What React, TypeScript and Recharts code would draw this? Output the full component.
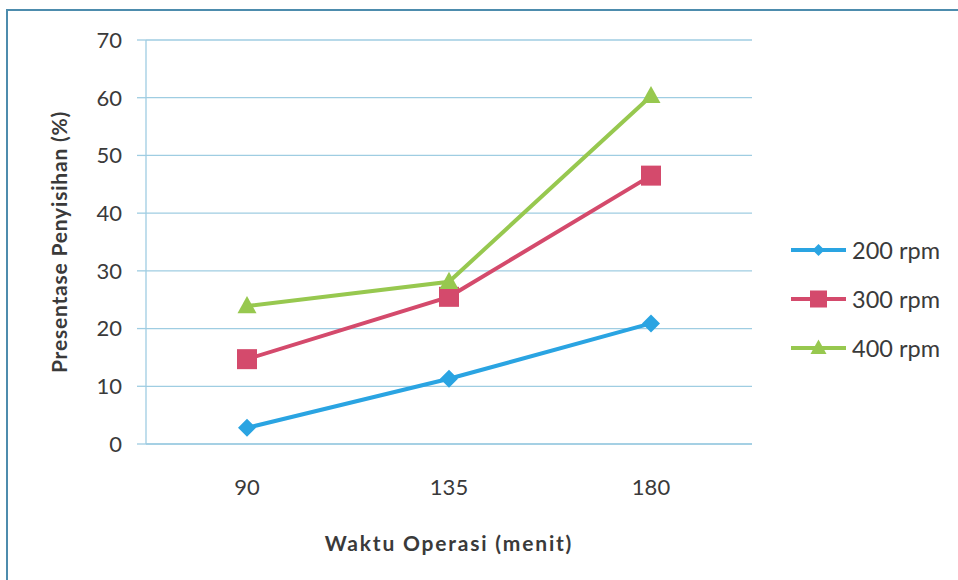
import React from 'react';
import { LineChart, Line, XAxis, YAxis, CartesianGrid, Legend } from 'recharts';

// Operating time (minutes) on the category axis
const waktu = ['90', '135', '180'];
// Removal percentage per stirring speed
const rpm200 = [2.8, 11.3, 20.9];
const rpm300 = [14.7, 25.5, 46.5];
const rpm400 = [23.9, 28.1, 60.3];
const yTicks = [0, 10, 20, 30, 40, 50, 60, 70];

const seriesNames = ['200 rpm', '300 rpm', '400 rpm'];
const colors = ['#2aa4e2', '#d44a6c', '#97c84f'];

const data = waktu.map((w, i) => ({
  waktu: w,
  r200: rpm200[i],
  r300: rpm300[i],
  r400: rpm400[i],
}));

const FONT = 'Lato, "Open Sans", sans-serif';
const TEXT = '#3a3a3a';
const GRID = '#9fcde2';

type MarkerKind = 'diamond' | 'square' | 'triangle';

function markerShape(kind: MarkerKind, cx: number, cy: number, s: number, color: string, key?: string) {
  if (kind === 'diamond') {
    return (
      <polygon
        key={key}
        points={`${cx},${cy - s} ${cx + s},${cy} ${cx},${cy + s} ${cx - s},${cy}`}
        fill={color}
      />
    );
  }
  if (kind === 'square') {
    return <rect key={key} x={cx - s} y={cy - s} width={2 * s} height={2 * s} fill={color} />;
  }
  return (
    <polygon
      key={key}
      points={`${cx},${cy - s * 1.05} ${cx + s},${cy + s * 0.75} ${cx - s},${cy + s * 0.75}`}
      fill={color}
    />
  );
}

const makeDot = (kind: MarkerKind, size: number, color: string) => (props: any) => {
  const { cx, cy, index } = props;
  if (cx == null || cy == null) return <g key={`e-${index}`} />;
  return markerShape(kind, cx, cy, size, color, `${kind}-${index}`);
};

const kinds: MarkerKind[] = ['diamond', 'square', 'triangle'];
const legendSizes = [6, 8.5, 8];

const renderLegend = () => (
  <div style={{ fontFamily: FONT }}>
    {seriesNames.map((name, i) => (
      <div key={name} style={{ display: 'flex', alignItems: 'center', height: 49 }}>
        <svg width={58} height={24} style={{ display: 'block' }}>
          <line x1={1} y1={12} x2={56} y2={12} stroke={colors[i]} strokeWidth={4} />
          {markerShape(kinds[i], 28.5, 12, legendSizes[i], colors[i])}
        </svg>
        <span style={{ fontSize: 23.5, color: TEXT, marginLeft: 4 }}>{name}</span>
      </div>
    ))}
  </div>
);

export default function App() {
  return (
    <div style={{ position: 'absolute', left: 0, top: 0, width: 958, height: 580, background: '#fff', overflow: 'hidden' }}>
      <div
        style={{
          position: 'absolute',
          left: 6,
          top: 9,
          width: 1000,
          height: 640,
          border: '2px solid #4d8cad',
          boxSizing: 'border-box',
        }}
      />
      <div style={{ position: 'absolute', left: 0, top: 0 }}>
        <LineChart width={958} height={580} data={data} margin={{ top: 40, right: 206, bottom: 76, left: 0 }}>
          <CartesianGrid vertical={false} stroke={GRID} strokeWidth={1.3} />
          <XAxis
            dataKey="waktu"
            height={60}
            padding={{ left: 101, right: 101 }}
            axisLine={{ stroke: GRID, strokeWidth: 1.3 }}
            tickLine={false}
            tickSize={0}
            tickMargin={35}
            tick={{ fontSize: 22, fill: TEXT, fontFamily: FONT }}
            label={{
              value: 'Waktu Operasi (menit)',
              position: 'insideBottom',
              offset: -47,
              style: { fontSize: 21, fontWeight: 700, fill: TEXT, fontFamily: FONT, letterSpacing: 1.8 },
            }}
          />
          <YAxis
            width={146}
            domain={[0, 70]}
            ticks={yTicks}
            interval={0}
            axisLine={{ stroke: GRID, strokeWidth: 1.3 }}
            tickLine={{ stroke: GRID, strokeWidth: 1.3 }}
            tickSize={9}
            tickMargin={15}
            tick={{ fontSize: 22, fill: TEXT, fontFamily: FONT }}
            label={{
              value: 'Presentase Penyisihan (%)',
              angle: -90,
              position: 'insideLeft',
              offset: 0,
              dx: 60,
              style: { fontSize: 21, fontWeight: 700, fill: TEXT, fontFamily: FONT, textAnchor: 'middle', letterSpacing: 0.8 },
            }}
          />
          <Legend
            layout="vertical"
            verticalAlign="middle"
            align="center"
            content={renderLegend}
            wrapperStyle={{ position: 'absolute', left: 790, top: 225, width: 168 }}
          />
          <Line
            name={seriesNames[0]}
            dataKey="r200"
            stroke={colors[0]}
            strokeWidth={4}
            dot={makeDot('diamond', 9, colors[0])}
            activeDot={false}
            isAnimationActive={false}
          />
          <Line
            name={seriesNames[1]}
            dataKey="r300"
            stroke={colors[1]}
            strokeWidth={4}
            dot={makeDot('square', 10, colors[1])}
            activeDot={false}
            isAnimationActive={false}
          />
          <Line
            name={seriesNames[2]}
            dataKey="r400"
            stroke={colors[2]}
            strokeWidth={4}
            dot={makeDot('triangle', 9.5, colors[2])}
            activeDot={false}
            isAnimationActive={false}
          />
        </LineChart>
      </div>
    </div>
  );
}
